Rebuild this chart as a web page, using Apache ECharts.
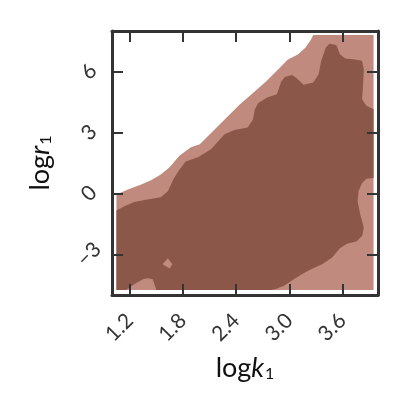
<!DOCTYPE html>
<html>
<head>
<meta charset="utf-8">
<script src="https://cdn.jsdelivr.net/npm/echarts@6/dist/echarts.min.js"></script>
<style>
html, body { margin: 0; padding: 0; background: #fff; }
#chart { width: 410px; height: 412px; }
</style>
</head>
<body>
<div id="chart"></div>
<script>
// axis ticks / ranges
var kTicks = [1.2, 1.8, 2.4, 3.0, 3.6];
var rTicks = [-3, 0, 3, 6];
var kRange = [1.0, 4.0];
var rRange = [-5, 8];

// outer contour level (logk1, logr1)
var outerLevel = [
    [1.05, -0.05], [1.18, 0.19], [1.33, 0.44], [1.44, 0.65], [1.55, 0.93],
    [1.65, 1.29], [1.76, 1.86], [1.89, 2.27], [1.99, 2.42], [2.14, 3.07],
    [2.29, 3.73], [2.44, 4.38], [2.59, 4.95], [2.74, 5.52], [2.89, 6.18],
    [2.98, 6.59], [3.10, 6.85], [3.18, 7.18], [3.24, 7.54], [3.27, 7.80],
    [3.95, 7.80], [3.95, -4.75], [1.05, -4.75]
];

// inner contour level
var innerLevel = [
    [1.05, -4.75], [1.05, -0.84], [1.14, -0.63], [1.25, -0.42], [1.40, -0.30],
    [1.55, -0.19], [1.63, 0.11], [1.70, 0.76], [1.76, 1.17], [1.83, 1.58],
    [1.97, 1.78], [2.12, 2.19], [2.27, 2.92], [2.38, 3.12], [2.53, 3.25],
    [2.59, 3.64], [2.61, 4.13], [2.65, 4.46], [2.75, 4.72], [2.86, 4.89],
    [2.91, 5.52], [2.95, 5.74], [3.03, 5.83], [3.08, 5.68], [3.16, 5.35],
    [3.27, 5.46], [3.33, 5.87], [3.36, 6.53], [3.41, 7.18], [3.45, 7.37],
    [3.53, 7.31], [3.57, 6.85], [3.63, 6.65], [3.74, 6.60], [3.82, 6.53],
    [3.84, 6.11], [3.83, 5.21], [3.82, 4.64], [3.87, 4.32], [3.95, 4.15],
    [3.95, 0.76], [3.87, 0.73], [3.82, 0.52], [3.78, 0.11], [3.77, -0.38],
    [3.80, -1.03], [3.84, -1.69], [3.82, -2.10], [3.76, -2.35], [3.65, -2.48],
    [3.57, -2.70], [3.48, -3.17], [3.37, -3.49], [3.24, -3.74], [3.14, -3.98],
    [3.05, -4.23], [2.94, -4.55], [2.84, -4.72], [2.79, -4.75], [1.50, -4.75],
    [1.46, -4.23], [1.40, -4.18], [1.35, -4.23], [1.25, -4.47], [1.16, -4.75]
];

// small island of the outer level inside the inner one
var innerHole = [[1.63, -3.19], [1.68, -3.49], [1.65, -3.69], [1.57, -3.49]];

var light = '#C08B7E',
    dark = '#8B5749',
    frame = '#333333';

var myChart = echarts.init(document.getElementById('chart'));

function contourSeries(points, color, z) {
    return {
        type: 'custom',
        silent: true,
        z: z,
        data: [0],
        renderItem: function (params, api) {
            return {
                type: 'polygon',
                shape: { points: points.map(function (p) { return api.coord(p); }) },
                style: { fill: color }
            };
        }
    };
}

var nameRich = {
    a: { fontFamily: 'Lato', fontSize: 27, color: '#111', verticalAlign: 'bottom', lineHeight: 30 },
    b: { fontFamily: 'Lato', fontSize: 27, fontStyle: 'italic', color: '#111', verticalAlign: 'bottom', lineHeight: 30 },
    c: { fontFamily: 'Lato', fontSize: 16, color: '#111', verticalAlign: 'bottom', lineHeight: 15, padding: [0, 0, 0, 1] }
};

var tickFont = { fontFamily: 'Lato', fontSize: 21, color: '#333' };

function frameAxis(extra) {
    var ax = {
        type: 'value',
        z: 5,
        splitLine: { show: false },
        axisLine: { show: true, onZero: false, lineStyle: { color: frame, width: 3 } },
        axisTick: { show: true, inside: true, length: 11, lineStyle: { color: frame, width: 2 } },
        axisLabel: { show: false }
    };
    for (var k in extra) ax[k] = extra[k];
    return ax;
}

var option = {
    animation: false,
    grid: { left: 112, top: 31, right: 32, bottom: 117 },
    xAxis: [
        frameAxis({
            position: 'bottom', min: kRange[0], max: kRange[1],
            axisTick: { show: true, inside: true, length: 11, customValues: kTicks, lineStyle: { color: frame, width: 2 } },
            axisLabel: {
                show: true, customValues: kTicks, rotate: 45, margin: 22,
                fontFamily: tickFont.fontFamily, fontSize: tickFont.fontSize, color: tickFont.color,
                formatter: function (v) { return v.toFixed(1); }
            },
            name: '{a|log}{b|k}{c|1}', nameLocation: 'middle', nameGap: 57,
            nameTextStyle: { rich: nameRich }
        }),
        frameAxis({
            position: 'top', min: kRange[0], max: kRange[1],
            axisTick: { show: true, inside: true, length: 11, customValues: kTicks, lineStyle: { color: frame, width: 2 } }
        })
    ],
    yAxis: [
        frameAxis({
            position: 'left', min: rRange[0], max: rRange[1],
            axisTick: { show: true, inside: true, length: 11, customValues: rTicks, lineStyle: { color: frame, width: 2 } },
            axisLabel: {
                show: true, customValues: rTicks, rotate: 45, margin: 23,
                align: 'center', verticalAlign: 'middle',
                fontFamily: tickFont.fontFamily, fontSize: tickFont.fontSize, color: tickFont.color,
                formatter: function (v) { return v < 0 ? '\u2212' + Math.abs(v) : String(v); }
            },
            name: '{a|log}{b|r}{c|1}', nameLocation: 'middle', nameGap: 58,
            nameTextStyle: { rich: nameRich }
        }),
        frameAxis({
            position: 'right', min: rRange[0], max: rRange[1],
            axisTick: { show: true, inside: true, length: 11, customValues: rTicks, lineStyle: { color: frame, width: 2 } }
        })
    ],
    series: [
        contourSeries(outerLevel, light, 1),
        contourSeries(innerLevel, dark, 2),
        contourSeries(innerHole, light, 3)
    ]
};

myChart.setOption(option);
</script>
</body>
</html>
